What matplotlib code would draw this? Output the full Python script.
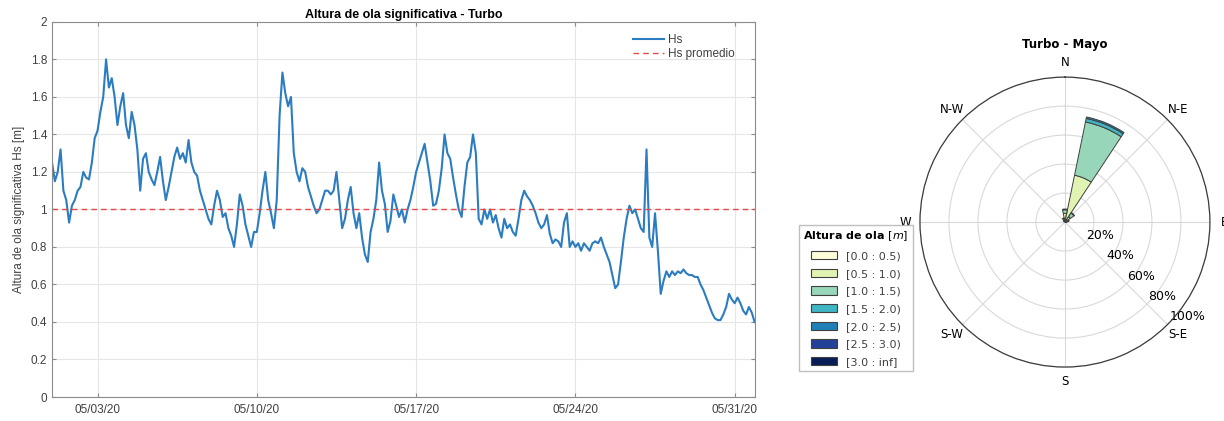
import numpy as np
import pandas as pd
import matplotlib
matplotlib.use('Agg')
import matplotlib.pyplot as plt
import matplotlib.dates as mdates
import matplotlib.patches as patches
from matplotlib.ticker import FuncFormatter, MultipleLocator

# significant wave height at Turbo, May 2020, one value every 3 hours
startDate = '2020-05-01 00:00'
stepHours = 3
hs = [1.25, 1.15, 1.20, 1.32, 1.10, 1.05, 0.93, 1.02,
      1.05, 1.10, 1.12, 1.20, 1.17, 1.16, 1.25, 1.38,
      1.42, 1.52, 1.60, 1.80, 1.65, 1.70, 1.60, 1.45,
      1.55, 1.62, 1.45, 1.38, 1.52, 1.45, 1.32, 1.10,
      1.27, 1.30, 1.20, 1.16, 1.13, 1.20, 1.28, 1.15,
      1.05, 1.12, 1.20, 1.28, 1.33, 1.27, 1.30, 1.25,
      1.37, 1.25, 1.20, 1.18, 1.10, 1.05, 1.00, 0.95,
      0.92, 1.02, 1.10, 1.05, 0.96, 0.98, 0.90, 0.86,
      0.80, 0.92, 1.08, 1.02, 0.92, 0.86, 0.80, 0.88,
      0.88, 0.98, 1.10, 1.20, 1.05, 0.98, 0.90, 1.05,
      1.50, 1.73, 1.62, 1.55, 1.60, 1.30, 1.20, 1.15,
      1.22, 1.20, 1.12, 1.07, 1.02, 0.98, 1.00, 1.05,
      1.10, 1.10, 1.08, 1.10, 1.20, 1.05, 0.90, 0.95,
      1.05, 1.12, 0.98, 0.90, 0.98, 0.85, 0.76, 0.72,
      0.88, 0.95, 1.05, 1.25, 1.10, 1.03, 0.88, 0.94,
      1.08, 1.02, 0.96, 1.00, 0.93, 1.00, 1.05, 1.12,
      1.20, 1.25, 1.30, 1.35, 1.25, 1.15, 1.02, 1.03,
      1.10, 1.22, 1.40, 1.30, 1.27, 1.17, 1.08, 1.00,
      0.96, 1.12, 1.25, 1.28, 1.40, 1.30, 0.95, 0.92,
      1.00, 0.95, 1.00, 0.93, 0.97, 0.90, 0.85, 0.95,
      0.90, 0.92, 0.88, 0.86, 0.95, 1.05, 1.10, 1.07,
      1.05, 1.02, 0.98, 0.93, 0.90, 0.92, 0.97, 0.87,
      0.82, 0.84, 0.83, 0.80, 0.93, 0.98, 0.80, 0.83,
      0.80, 0.82, 0.78, 0.82, 0.80, 0.78, 0.82, 0.83,
      0.82, 0.85, 0.80, 0.76, 0.72, 0.65, 0.58, 0.60,
      0.72, 0.85, 0.95, 1.02, 0.98, 1.00, 0.95, 0.90,
      0.88, 1.32, 0.85, 0.80, 0.98, 0.78, 0.55, 0.62,
      0.67, 0.64, 0.67, 0.65, 0.67, 0.66, 0.68, 0.66,
      0.65, 0.65, 0.64, 0.64, 0.60, 0.57, 0.53, 0.49,
      0.45, 0.42, 0.41, 0.41, 0.44, 0.48, 0.55, 0.52,
      0.50, 0.53, 0.50, 0.46, 0.44, 0.48, 0.45, 0.40]
hsMean = 1.0
dateTicks = ['2020-05-03', '2020-05-10', '2020-05-17', '2020-05-24', '2020-05-31']

# wave rose: % of records per direction sector (N, NNE, ..., NNW) and height class
sectorAngles = np.arange(16) * 22.5
compassLabels = ['N', 'N-E', 'E', 'S-E', 'S', 'S-W', 'W', 'N-W']
heightClasses = ['[0.0 : 0.5)', '[0.5 : 1.0)', '[1.0 : 1.5)', '[1.5 : 2.0)',
                 '[2.0 : 2.5)', '[2.5 : 3.0)', '[3.0 : inf]']
freq00_05 = [1.5, 2.0, 1.0, 0.5, 0.5, 0, 0, 0, 0, 0, 0, 0, 0, 0, 0.5, 0.5]
freq05_10 = [4.5, 31.0, 3.5, 1.5, 1.0, 0, 0, 0, 0, 0, 0, 0, 0, 0, 1.0, 1.5]
freq10_15 = [2.5, 37.5, 3.0, 1.0, 0, 0, 0, 0, 0, 0, 0, 0, 0, 0, 0, 1.0]
freq15_20 = [0.5, 2.5, 0.5, 0, 0, 0, 0, 0, 0, 0, 0, 0, 0, 0, 0, 0]
freq20_25 = [0, 1.0, 0, 0, 0, 0, 0, 0, 0, 0, 0, 0, 0, 0, 0, 0]
freq25_30 = [0] * 16
freq30_inf = [0] * 16
radialTicks = [20, 40, 60, 80, 100]


def drawSeries(ax):
    times = pd.date_range(startDate, periods=len(hs), freq='%dh' % stepHours)
    ax.plot(times, hs, color='#2b7cc0', lw=1.5, label='Hs')
    ax.plot([times[0], times[-1]], [hsMean, hsMean], color='#e34a4a',
            ls=(0, (4, 3)), lw=1.0, label='Hs promedio')

    ax.set_xlim(times[0], times[-1])
    ax.set_ylim(0, 2)
    ax.yaxis.set_major_locator(MultipleLocator(0.2))
    ax.yaxis.set_major_formatter(FuncFormatter(lambda v, p: '%g' % round(v, 1)))
    ax.set_xticks(pd.to_datetime(dateTicks))
    ax.xaxis.set_major_formatter(mdates.DateFormatter('%m/%d/%y'))

    ax.grid(True, color='#e6e6e6', lw=0.8)
    ax.set_axisbelow(True)
    for s in ax.spines.values():
        s.set_color('#8c8c8c')
        s.set_linewidth(0.8)
    ax.tick_params(direction='in', length=3, colors='#8c8c8c', labelcolor='#404040',
                   labelsize=8.5, top=True, right=True)
    ax.tick_params(axis='x', pad=5)

    ax.set_title('Altura de ola significativa - Turbo', fontsize=9,
                 fontweight='bold', pad=3)
    ax.set_ylabel('Altura de ola significativa Hs [m]', fontsize=8.5,
                  color='#404040', labelpad=4)
    ax.legend(loc='upper right', bbox_to_anchor=(0.988, 1.0), frameon=False,
              fontsize=8.5, handlelength=2.6, handletextpad=0.3, labelspacing=0.2,
              borderaxespad=0.6, labelcolor='#404040')


def drawRose(ax):
    ax.set_theta_zero_location('N')
    ax.set_theta_direction(-1)
    theta = np.deg2rad(sectorAngles)
    width = np.deg2rad(22.5) * 0.97
    colors = plt.cm.YlGnBu(np.linspace(0, 1, len(heightClasses)))
    freqs = [freq00_05, freq05_10, freq10_15, freq15_20,
             freq20_25, freq25_30, freq30_inf]

    bottom = np.zeros(len(sectorAngles))
    handles = []
    for freq, c, lab in zip(freqs, colors, heightClasses):
        freq = np.array(freq, dtype=float)
        keep = freq > 0
        if keep.any():
            ax.bar(theta[keep], freq[keep], width=width, bottom=bottom[keep],
                   color=c, edgecolor='#404040', lw=0.7, zorder=3)
        bottom += freq
        handles.append(patches.Patch(facecolor=c, edgecolor='#404040', lw=0.8, label=lab))

    ax.set_ylim(0, 100)
    ax.set_thetagrids(np.arange(0, 360, 45), compassLabels, fontsize=8.5)
    ax.set_rgrids(radialTicks, ['%d%%' % r for r in radialTicks], angle=134, fontsize=9)
    ax.tick_params(axis='x', pad=0)
    ax.grid(True, color='#d9d9d9', lw=0.8)
    ax.spines['polar'].set_color('#3c3c3c')
    ax.spines['polar'].set_linewidth(0.9)
    ax.set_title('Turbo - Mayo', fontsize=8.5, fontweight='bold', pad=6)
    return handles


fig = plt.figure(figsize=(12.24, 4.21), dpi=100)
plt.rcParams['font.family'] = ['DejaVu Sans']

ax1 = fig.add_axes([0.0425, 0.057, 0.574, 0.891])
drawSeries(ax1)
for lbl in ax1.get_xticklabels() + ax1.get_yticklabels():
    lbl.set_family('Liberation Sans')
ax1.title.set_family('Liberation Sans')
ax1.yaxis.label.set_family('Liberation Sans')
for txt in ax1.get_legend().get_texts():
    txt.set_family('Liberation Sans')

ax2 = fig.add_axes([0.7516, 0.128, 0.2369, 0.689], projection='polar')
handles = drawRose(ax2)
fig.legend(handles=handles, loc='lower left', bbox_to_anchor=(0.648, 0.1045),
           title=r'Altura de ola $[m]$', title_fontproperties={'weight': 'bold', 'size': 8},
           fontsize=8, handlelength=2.3, handleheight=0.8, labelspacing=0.68,
           handletextpad=0.8, borderpad=0.4, fancybox=False, edgecolor='#b0b0b0',
           labelcolor='#404040')

fig.savefig('out.png', dpi=100)
